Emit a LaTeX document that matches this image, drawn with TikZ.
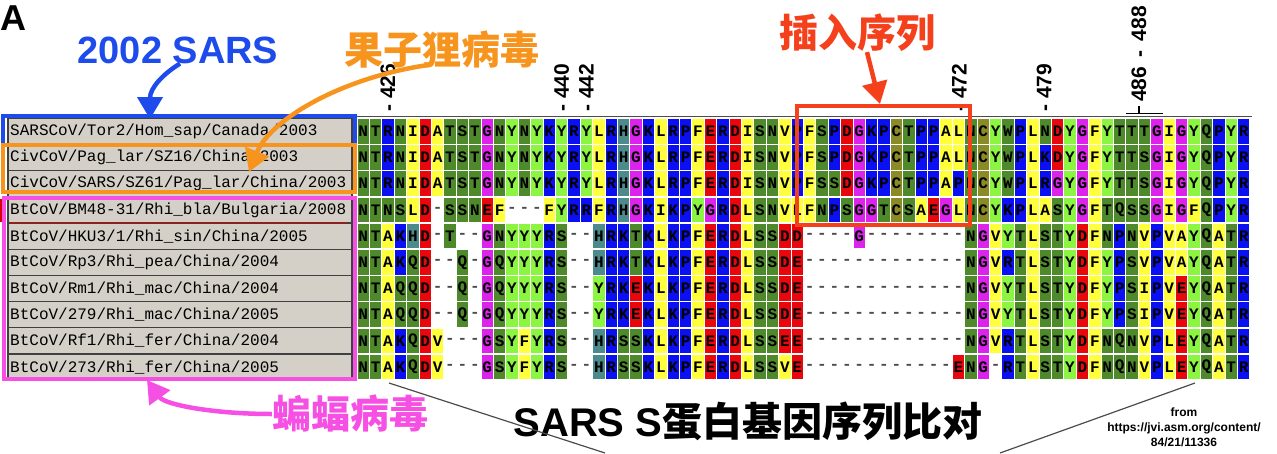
\documentclass[tikz,border=0pt]{standalone}
\usepackage{fontspec}
\setmainfont{Liberation Sans}
\newfontfamily\monofont{Liberation Mono}
\newfontfamily\cjkfont{Noto Sans CJK SC}
\usetikzlibrary{arrows.meta}

\definecolor{aadkgreen}{HTML}{4E8A2C}
\definecolor{aaltgreen}{HTML}{8CF542}
\definecolor{aayellow}{HTML}{FFFF3C}
\definecolor{aablue}{HTML}{0A10F2}
\definecolor{aared}{HTML}{E8070D}
\definecolor{aamagenta}{HTML}{DC23EC}
\definecolor{aateal}{HTML}{4C8A8C}
\definecolor{aaolive}{HTML}{8A8A26}
\colorlet{resA}{aayellow}\colorlet{resC}{aaolive}\colorlet{resD}{aared}
\colorlet{resE}{aared}\colorlet{resF}{aayellow}\colorlet{resG}{aamagenta}
\colorlet{resH}{aateal}\colorlet{resI}{aayellow}\colorlet{resK}{aablue}
\colorlet{resL}{aayellow}\colorlet{resM}{aayellow}\colorlet{resN}{aadkgreen}
\colorlet{resP}{aablue}\colorlet{resQ}{aadkgreen}\colorlet{resR}{aablue}
\colorlet{resS}{aadkgreen}\colorlet{resT}{aadkgreen}\colorlet{resV}{aayellow}
\colorlet{resW}{aadkgreen}\colorlet{resY}{aaltgreen}
\definecolor{sarsblue}{HTML}{1E4BEB}
\definecolor{civorange}{HTML}{F7941D}
\definecolor{insred}{HTML}{F5401C}
\definecolor{batpink}{HTML}{F64FE3}
\definecolor{panelgray}{HTML}{D4D0C8}

\tikzset{res/.style={minimum width=11.4pt, minimum height=24.6pt, inner sep=0pt, text=black, font=\monofont\bfseries\fontsize{16}{16}\selectfont},
       gapres/.style={inner sep=0pt, text=black!70, font=\monofont\bfseries\fontsize{16}{16}\selectfont},
       namecell/.style={fill=panelgray, draw=black!75, line width=1.2pt},
       seqname/.style={anchor=west, inner sep=0pt, font=\monofont\fontsize{16}{16}\selectfont},
       posnum/.style={rotate=90, anchor=west, inner sep=0pt, font=\bfseries\fontsize{21}{21}\selectfont},
       hanzi/.style={inner sep=0pt, font=\cjkfont\bfseries\fontsize{39}{39}\selectfont},
       pointer/.style={line width=4.5pt, -{Triangle[length=22pt,width=25pt]}},
       groupbox/.style={line width=4pt},
       zoomline/.style={draw=black!70, line width=1.2pt}}

\makeatletter
\newcount\colidx
\newcommand\seqrow[2]{%
  \colidx=0
  \@tfor\res:=#2\do{%
    \if-\res
      \node[gapres] (r#1-\the\colidx) at ({357+12.4*(\the\colidx+0.5)},{131.3+26.2*#1}) {-};
    \else
      \node[res, fill=res\res] (r#1-\the\colidx) at ({357+12.4*(\the\colidx+0.5)},{131.3+26.2*#1}) {\res};
    \fi
    \global\advance\colidx by 1
  }}
\makeatother

\begin{document}
\begin{tikzpicture}[x=1pt, y=-1pt]
\useasboundingbox (0,0) rectangle (1277,453);
\node[anchor=base west, inner sep=0pt, font=\bfseries\fontsize{36}{36}\selectfont] (panel) at (0,30) {A};

\foreach \name [count=\r from 0] in {SARSCoV/Tor2/Hom\_sap/Canada/2003, CivCoV/Pag\_lar/SZ16/China/2003,
  CivCoV/SARS/SZ61/Pag\_lar/China/2003, BtCoV/BM48-31/Rhi\_bla/Bulgaria/2008, BtCoV/HKU3/1/Rhi\_sin/China/2005,
  BtCoV/Rp3/Rhi\_pea/China/2004, BtCoV/Rm1/Rhi\_mac/China/2004, BtCoV/279/Rhi\_mac/China/2005,
  BtCoV/Rf1/Rhi\_fer/China/2004, BtCoV/273/Rhi\_fer/China/2005}{
  \draw[namecell] (8,{118.2+26.2*\r}) rectangle (352,{144.4+26.2*\r});
  \node[seqname] (n\r) at (10,{131.3+26.2*\r}) {\name};
}
\draw[red!85!black, line width=1pt] (10,223) -- (347,223);
\draw[red!85!black, line width=2.5pt] (1.3,199) -- (1.3,222);

\draw[black!70, line width=1pt] (357,116.5) -- (1252,116.5);
\seqrow{0}{NTRNIDATSTGNYNYKYRYLRHGKLRPFERDISNVPFSPDGKPCTPPALNCYWPLNDYGFYTTTGIGYQPYR}
\seqrow{1}{NTRNIDATSTGNYNYKYRYLRHGKLRPFERDISNVPFSPDGKPCTPPALNCYWPLKDYGFYTTSGIGYQPYR}
\seqrow{2}{NTRNIDATSTGNYNYKYRYLRHGKLRPFERDISNVPFSSDGKPCTPPAPNCYWPLRGYGFYTTSGIGYQPYR}
\seqrow{3}{NTNSLD-SSNEF---FYRRFRHGKIKPYGRDLSNVLFNPSGGTCSAEGLNCYKPLASYGFTQSSGIGFQPYR}
\seqrow{4}{NTAKHD-T--GNYYYRS--HRKTKLKPFERDLSSDD----G--------NGVYTLSTYDFNPNVPVAYQATR}
\seqrow{5}{NTAKQD--Q-GQYYYRS--HRKTKLKPFERDLSSDE-------------NGVRTLSTYDFYPSVPVAYQATR}
\seqrow{6}{NTAQQD--Q-GQYYYRS--YRKEKLKPFERDLSSDE-------------NGVYTLSTYDFYPSIPVEYQATR}
\seqrow{7}{NTAQQD--Q-GQYYYRS--YRKEKLKPFERDLSSDE-------------NGVYTLSTYDFYPSIPVEYQATR}
\seqrow{8}{NTAKQDV---GSYFYRS--HRSSKLKPFERDLSSEE-------------NGVRTLSTYDFNQNVPLEYQATR}
\seqrow{9}{NTAKQDV---GSYFYRS--HRSSKLKPFERDLSSVE------------ENG-RTLSTYDFNQNVPLEYQATR}

\node[posnum] (p426) at (388,112) {- 426};
\node[posnum] (p440) at (561.6,112) {- 440};
\node[posnum] (p442) at (586.4,112) {- 442};
\node[posnum] (p472) at (959.4,112) {- 472};
\node[posnum] (p479) at (1044.2,112) {- 479};
\node[posnum] (p486) at (1139,102) {486 \,-\, 488};
\draw[line width=1.5pt] (1126,113.5) -- (1163,113.5) (1139,106) -- (1139,113.5);

\draw[groupbox, sarsblue] (3,115.5) rectangle (355,145);
\draw[groupbox, civorange] (3,144.5) rectangle (355,192);
\draw[groupbox, batpink] (4,198) rectangle (355,379);
\draw[groupbox, insred] (797,106) rectangle (970,225);

\node[inner sep=0pt, anchor=base, text=sarsblue, font=\bfseries\fontsize{38}{38}\selectfont] (sars) at (178,63) {2002 SARS};
\node[hanzi, text=civorange] (civet) at (442,50) {果子狸病毒};
\node[hanzi, text=insred] (insert) at (857,33) {插入序列};
\node[hanzi, text=batpink] (bat) at (350,414) {蝙蝠病毒};
\node[inner sep=0pt, font=\bfseries\fontsize{40}{40}\selectfont] (title) at (748,421) {SARS S{\cjkfont 蛋白基因序列比对}};
\node[inner sep=0pt, align=center, font=\bfseries\fontsize{12}{15}\selectfont] (src) at (1184,427) {from\\https://jvi.asm.org/content/\\84/21/11336};

\coordinate (sarsTip) at (150,119);
\coordinate (civStart) at (428,65);
\coordinate (civTip) at (249,172);
\coordinate (insTip) at (880,104);
\coordinate (batTip) at (147,380);
\draw[pointer, sarsblue] ([xshift=2pt]sars.south) .. controls (163,74) and (150,88) .. (sarsTip);
\draw[pointer, civorange] (civStart) .. controls (340,78) and (270,120) .. (civTip);
\draw[pointer, insred] ([xshift=10pt]insert.south) -- (insTip);
\draw[pointer, batpink] (bat.west) .. controls (215,414) and (165,405) .. (batTip);

\coordinate (zl1) at (389,383);
\coordinate (zl2) at (605,453);
\coordinate (zr1) at (1195,383);
\coordinate (zr2) at (1000,453);
\draw[zoomline] (zl1) -- (zl2);
\draw[zoomline] (zr1) -- (zr2);
\end{tikzpicture}
\end{document}
